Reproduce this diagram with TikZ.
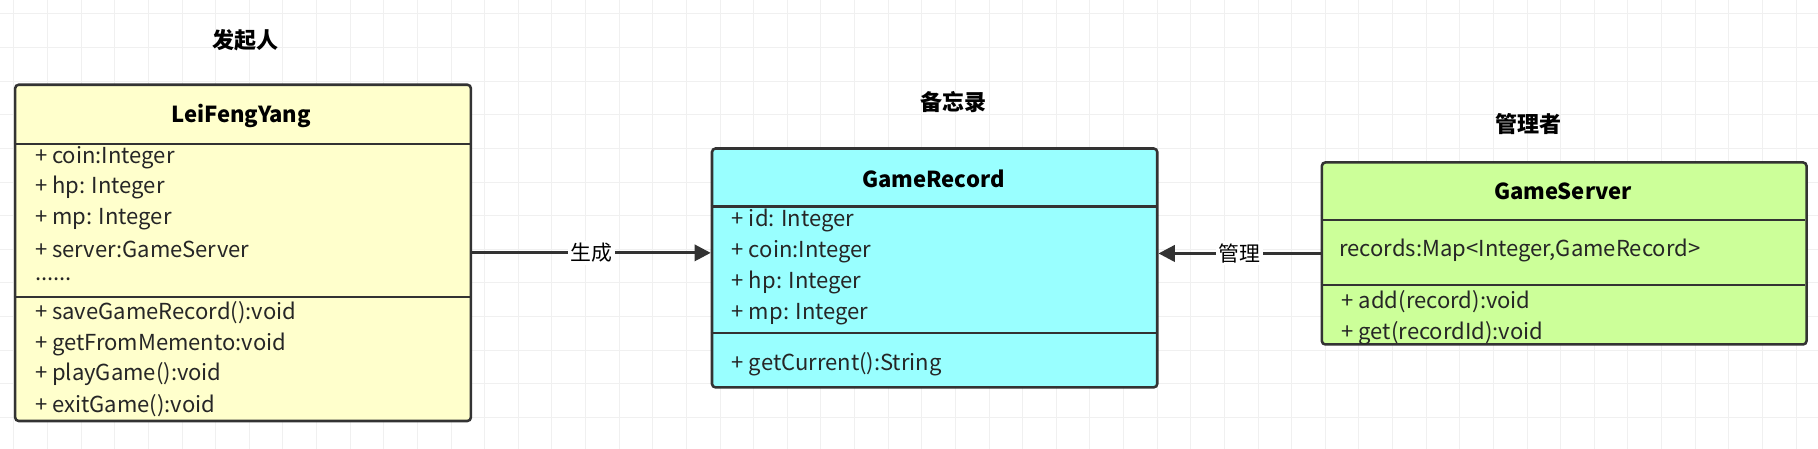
\documentclass[tikz,border=0pt]{standalone}
\usepackage{fontspec}
\setmainfont{Noto Sans CJK SC}
\usetikzlibrary{arrows.meta}
\definecolor{bd}{HTML}{333333}
\definecolor{cy}{HTML}{FFFFCC}
\definecolor{cc}{HTML}{99FFFF}
\definecolor{cg}{HTML}{CCFF99}
\tikzset{
 box/.style={draw=bd, line width=2.2pt, rounded corners=3pt, anchor=north west, inner sep=0pt},
 div/.style={draw=bd, line width=2pt},
 ttl/.style={font=\fontsize{19}{19}\selectfont\bfseries},
 att/.style={font=\fontsize{19}{19}\selectfont, anchor=west, inner sep=0pt, text=black!85},
 lab/.style={font=\fontsize{19}{19}\selectfont\bfseries},
 con/.style={draw=bd, line width=2.6pt, -{Triangle[length=14pt,width=14pt]}},
 elab/.style={font=\fontsize{18}{18}\selectfont, fill=white, inner sep=2pt}
}
\begin{document}
\begin{tikzpicture}[x=1pt,y=-1pt]
\useasboundingbox (0,0) rectangle (1568,387);
\fill[white] (0,0) rectangle (1568,387);
\foreach \i in {0,...,54} {\draw[black!6, line width=0.8pt] (\i*29+12,0) -- (\i*29+12,387);}
\foreach \i in {0,...,13} {\draw[black!6, line width=0.8pt] (0,\i*29+12) -- (1568,\i*29+12);}
% LeiFengYang
\node[lab] (l1) at (212,35) {发起人};
\node[box, fill=cy, minimum width=393pt, minimum height=290pt] (lf) at (12,72) {};
\draw[div] (12,124) -- (405,124);
\draw[div] (12,256) -- (405,256);
\node[ttl] (lft) at (208,100) {LeiFengYang};
\node[att] (a1) at (30,136) {+ coin:Integer};
\node[att] (a2) at (30,162) {+ hp: Integer};
\node[att] (a3) at (30,189) {+ mp: Integer};
\node[att] (a4) at (30,215) {+ server:GameServer};
\node[att] (a5) at (30,241) {......};
\node[att] (m1) at (30,270) {+ saveGameRecord():void};
\node[att] (m2) at (30,297) {+ getFromMemento:void};
\node[att] (m3) at (30,323) {+ playGame():void};
\node[att] (m4) at (30,350) {+ exitGame():void};
% GameRecord
\node[lab] (l2) at (822,88) {备忘录};
\node[box, fill=cc, minimum width=384pt, minimum height=206pt] (gr) at (613,127) {};
\draw[div] (613,178) -- (997,178);
\draw[div] (613,287) -- (997,287);
\node[ttl] (grt) at (805,154) {GameRecord};
\node[att] (b1) at (631,190) {+ id: Integer};
\node[att] (b2) at (631,217) {+ coin:Integer};
\node[att] (b3) at (631,244) {+ hp: Integer};
\node[att] (b4) at (631,271) {+ mp: Integer};
\node[att] (b5) at (631,314) {+ getCurrent():String};
% GameServer
\node[lab] (l3) at (1318,107) {管理者};
\node[box, fill=cg, minimum width=418pt, minimum height=157pt] (gs) at (1139,139) {};
\draw[div] (1139,190) -- (1557,190);
\draw[div] (1139,246) -- (1557,246);
\node[ttl] (gst) at (1348,165) {GameServer};
\node[att] (c1) at (1155,216) {records:Map<Integer,GameRecord>};
\node[att] (c2) at (1157,260) {+ add(record):void};
\node[att] (c3) at (1157,287) {+ get(recordId):void};
% connectors
\draw[con] (lf.east) -- node[elab] {生成} (lf.east -| gr.west);
\draw[con] (gs.west) -- node[elab] {管理} (gs.west -| gr.east);
\end{tikzpicture}
\end{document}
